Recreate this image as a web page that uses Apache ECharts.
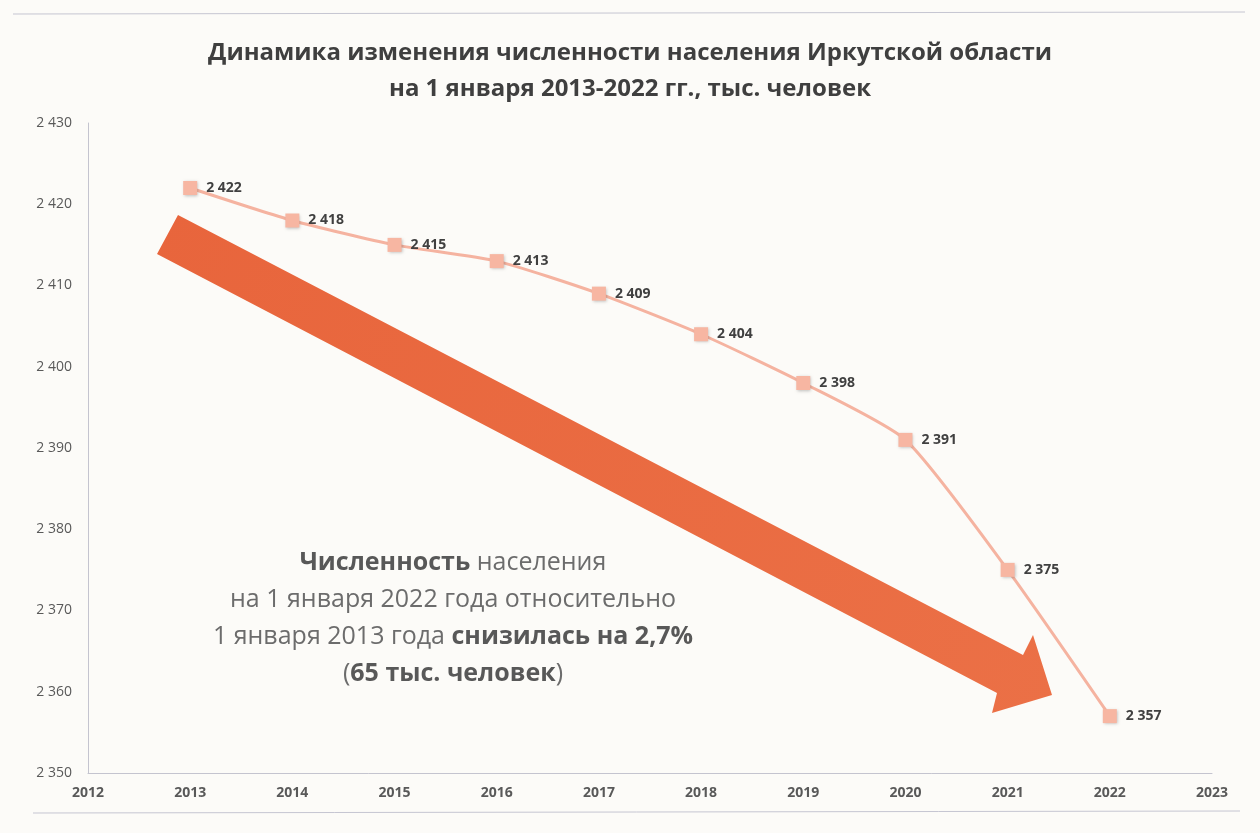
<!DOCTYPE html>
<html>
<head>
<meta charset="utf-8">
<script src="https://cdn.jsdelivr.net/npm/echarts@6/dist/echarts.min.js"></script>
<style>
html,body{margin:0;padding:0;background:#fcfbf8;}
#chart{width:1260px;height:833px;}
</style>
</head>
<body>
<div id="chart"></div>
<script>
const years = [2013, 2014, 2015, 2016, 2017, 2018, 2019, 2020, 2021, 2022];
const population = [2422, 2418, 2415, 2413, 2409, 2404, 2398, 2391, 2375, 2357];
const xMin = 2012, xMax = 2023;
const yMin = 2350, yMax = 2430, yStep = 10;
const titleText = 'Динамика изменения численности населения Иркутской области\nна 1 января 2013-2022 гг., тыс. человек';

function fmt(v){ const s = String(Math.round(v)); return s.length > 3 ? s.slice(0, s.length-3) + ' ' + s.slice(-3) : s; }

const chart = echarts.init(document.getElementById('chart'));
const font = '"Open Sans", "Noto Sans", sans-serif';

chart.setOption({
  backgroundColor: '#fcfbf8',
  animation: false,
  title: {
    text: titleText,
    left: 'center',
    top: 30,
    textStyle: { fontFamily: font, fontSize: 24, fontWeight: 'bold', color: '#3f3f3f', lineHeight: 36 }
  },
  grid: { left: 88, right: 48, top: 123, bottom: 60 },
  xAxis: {
    type: 'value', min: xMin, max: xMax, interval: 1,
    axisLine: { show: true, lineStyle: { color: '#c4c4cf', width: 1 } },
    axisTick: { show: false },
    splitLine: { show: false },
    axisLabel: { fontFamily: font, fontSize: 14, fontWeight: 'bold', color: '#595959', margin: 13, formatter: v => String(v) }
  },
  yAxis: {
    type: 'value', min: yMin, max: yMax, interval: yStep,
    axisLine: { show: true, lineStyle: { color: '#c4c4cf', width: 1 } },
    axisTick: { show: false },
    splitLine: { show: false },
    axisLabel: { fontFamily: font, fontSize: 14, color: '#595959', margin: 16, formatter: v => fmt(v) }
  },
  graphic: [
    { type: 'line', shape: { x1: 13, y1: 14, x2: 1245, y2: 12 }, style: { stroke: '#c6c6d2', lineWidth: 1 } },
    { type: 'line', shape: { x1: 33, y1: 813, x2: 1240, y2: 811 }, style: { stroke: '#c6c6d2', lineWidth: 1 } },
    {
      type: 'polygon', z: 1,
      shape: { points: [[178,215],[1023,655],[1033,635],[1052,695],[992,713],[997,693],[157,254]] },
      style: {
        fill: new echarts.graphic.LinearGradient(0, 0, 1, 1, [
          { offset: 0, color: '#e8653c' },
          { offset: 1, color: '#eb7046' }
        ])
      }
    },
    {
      type: 'text', z: 10,
      style: {
        x: 453, y: 544,
        text: '{b|Численность} {n|населения}\n{n|на 1 января 2022 года относительно}\n{n|1 января 2013 года} {b|снизилась на 2,7%}\n{n|(}{b|65 тыс. человек}{n|)}',
        align: 'center',
        textAlign: 'center',
        verticalAlign: 'top',
        fill: '#6a6a6a',
        font: '25px ' + font,
        lineHeight: 37,
        rich: {
          b: { fontFamily: font, fontSize: 25, fontWeight: 'bold', fill: '#585858', color: '#585858', lineHeight: 37 },
          n: { fontFamily: font, fontSize: 25, fontWeight: 'normal', fill: '#6c6c6c', color: '#6c6c6c', lineHeight: 37 }
        }
      }
    }
  ],
  series: [{
    type: 'line',
    z: 5,
    data: years.map((y, i) => [y, population[i]]),
    smooth: 0.2,
    symbol: 'rect',
    symbolSize: 14,
    lineStyle: { color: '#f5b3a0', width: 3 },
    itemStyle: { color: '#f7b6a2', shadowColor: 'rgba(0,0,0,0.25)', shadowBlur: 3, shadowOffsetX: 1, shadowOffsetY: 1 },
    label: {
      show: true, position: 'right', distance: 9,
      fontFamily: font, fontSize: 14, fontWeight: 'bold', color: '#404040',
      formatter: p => fmt(p.value[1])
    }
  }]
});
</script>
</body>
</html>
